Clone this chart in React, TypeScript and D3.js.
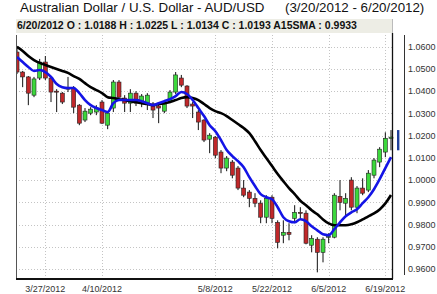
import React from "react";
import * as d3 from "d3";

// ---- data ----
const dates: Date[] = d3.timeDay
  .range(new Date(2012, 2, 20), new Date(2012, 5, 21))
  .filter((d) => d.getDay() % 6 !== 0);

const opens = [1.0576,1.0486,1.0464,1.0382,1.0459,1.0531,1.0459,1.0400,1.0391,1.0414,1.0414,1.0337,1.0270,1.0301,1.0306,1.0351,1.0247,1.0324,1.0441,1.0369,1.0346,1.0391,1.0351,1.0346,1.0342,1.0333,1.0310,1.0355,1.0396,1.0459,1.0423,1.0342,1.0306,1.0270,1.0184,1.0193,1.0126,1.0054,1.0081,1.0054,0.9964,0.9946,0.9918,0.9896,0.9833,0.9923,0.9810,0.9752,0.9765,0.9828,0.9855,0.9851,0.9707,0.9734,0.9675,0.9743,0.9743,0.9927,0.9896,1.0000,0.9878,0.9964,0.9955,1.0022,1.0081,1.0126,1.0188];
const highs = [1.0603,1.0491,1.0468,1.0464,1.0545,1.0558,1.0464,1.0409,1.0396,1.0464,1.0423,1.0342,1.0324,1.0328,1.0337,1.0360,1.0306,1.0450,1.0450,1.0382,1.0409,1.0400,1.0387,1.0391,1.0351,1.0342,1.0351,1.0405,1.0486,1.0473,1.0427,1.0351,1.0315,1.0274,1.0211,1.0198,1.0135,1.0108,1.0090,1.0063,1.0000,0.9955,0.9941,0.9909,0.9932,0.9932,0.9819,0.9819,0.9806,0.9887,0.9878,0.9864,0.9752,0.9743,0.9743,0.9761,0.9941,1.0000,0.9941,1.0013,0.9973,1.0008,1.0045,1.0099,1.0148,1.0215,1.0225];
const lows = [1.0477,1.0418,1.0337,1.0373,1.0450,1.0450,1.0351,1.0306,1.0342,1.0396,1.0301,1.0247,1.0261,1.0292,1.0292,1.0252,1.0229,1.0306,1.0369,1.0306,1.0306,1.0333,1.0328,1.0315,1.0279,1.0256,1.0301,1.0346,1.0387,1.0418,1.0324,1.0279,1.0225,1.0171,1.0121,1.0099,1.0031,1.0040,1.0008,0.9955,0.9923,0.9878,0.9878,0.9806,0.9806,0.9806,0.9693,0.9716,0.9729,0.9806,0.9828,0.9711,0.9675,0.9585,0.9630,0.9716,0.9738,0.9864,0.9842,0.9864,0.9851,0.9932,0.9946,1.0008,1.0058,1.0103,1.0134];
const closes = [1.0486,1.0464,1.0391,1.0455,1.0531,1.0459,1.0396,1.0396,1.0351,1.0409,1.0328,1.0256,1.0310,1.0319,1.0324,1.0256,1.0301,1.0441,1.0373,1.0346,1.0391,1.0346,1.0378,1.0382,1.0315,1.0324,1.0342,1.0396,1.0473,1.0427,1.0333,1.0333,1.0261,1.0180,1.0202,1.0112,1.0054,1.0099,1.0022,0.9964,0.9932,0.9918,0.9896,0.9833,0.9918,0.9828,0.9720,0.9765,0.9756,0.9855,0.9851,0.9716,0.9738,0.9675,0.9734,0.9747,0.9932,0.9900,0.9918,0.9878,0.9964,0.9941,1.0031,1.0090,1.0139,1.0188,1.0193];

const sma15 = [1.0599,1.0581,1.0558,1.0540,1.0527,1.0518,1.0509,1.0500,1.0491,1.0482,1.0468,1.0455,1.0436,1.0418,1.0405,1.0391,1.0373,1.0369,1.0364,1.0360,1.0355,1.0351,1.0346,1.0342,1.0337,1.0342,1.0346,1.0351,1.0360,1.0369,1.0373,1.0369,1.0360,1.0342,1.0324,1.0310,1.0301,1.0288,1.0270,1.0252,1.0234,1.0211,1.0175,1.0135,1.0099,1.0063,1.0027,0.9995,0.9964,0.9937,0.9907,0.9887,0.9864,0.9846,0.9823,0.9805,0.9797,0.9797,0.9797,0.9801,0.9810,0.9823,0.9837,0.9850,0.9868,0.9895,0.9933];
const smaFast = [1.0554,1.0531,1.0509,1.0491,1.0495,1.0486,1.0464,1.0432,1.0418,1.0414,1.0414,1.0391,1.0360,1.0337,1.0324,1.0315,1.0306,1.0346,1.0360,1.0360,1.0360,1.0360,1.0355,1.0346,1.0337,1.0346,1.0355,1.0364,1.0378,1.0396,1.0387,1.0360,1.0324,1.0288,1.0247,1.0220,1.0180,1.0135,1.0108,1.0085,1.0058,1.0013,0.9973,0.9937,0.9923,0.9914,0.9878,0.9833,0.9815,0.9810,0.9824,0.9815,0.9792,0.9774,0.9756,0.9752,0.9779,0.9810,0.9837,0.9855,0.9869,0.9896,0.9923,0.9959,1.0004,1.0054,1.0103];

const yTicks = [0.96,0.97,0.98,0.99,1.0,1.01,1.02,1.03,1.04,1.05,1.06];
const xTickLabels = ["3/27/2012","4/10/2012","5/8/2012","5/22/2012","6/5/2012","6/19/2012"];

const titleMain = "Australian Dollar / U.S. Dollar -  AUD/USD";
const titleRange = "(3/20/2012 - 6/20/2012)";
const headerText = "6/20/2012 O : 1.0188 H : 1.0225 L : 1.0134 C : 1.0193 A15SMA : 0.9933";

// ---- layout ----
const W = 437, H = 294;
const plotL = 16, plotR = 392, plotT = 35, plotB = 279;
const FONT = "'Liberation Sans', Arial, sans-serif";

const fmtLabel = d3.timeFormat("%-m/%-d/%Y");

export default function App() {
  const x = d3.scaleLinear().domain([0, dates.length - 1]).range([17, 391]);
  const y = d3.scaleLinear().domain([0.96, 1.06]).range([269, 46.7]);
  const lineGen = d3
    .line<number>()
    .x((_, i) => x(i))
    .y((v) => y(v))
    .curve(d3.curveMonotoneX);

  const tickIdx = xTickLabels.map((lab) => dates.findIndex((d) => fmtLabel(d) === lab));
  const bodyW = 4;
  const last = dates.length - 1;

  return (
    <svg width={W} height={H} style={{ position: "absolute", left: 0, top: 0, background: "#fff" }}
      fontFamily={FONT}>
      <defs>
        <clipPath id="plotclip">
          <rect x={plotL + 0.5} y={plotT - 10} width={plotR - plotL + 4} height={plotB - plotT + 10} />
        </clipPath>
      </defs>
      <rect x={0} y={0} width={W} height={H} fill="#fff" />
      {/* title */}
      <text x={20} y={12} fontSize={13.33} fill="#111">{titleMain}</text>
      <text x={285} y={12} fontSize={13.33} fill="#111">{titleRange}</text>
      {/* header band */}
      <rect x={plotL} y={19} width={plotR - plotL + 1} height={14} fill="#ededE5" />
      <text x={17} y={29.3} fontSize={10.5} fontWeight="bold" fill="#111">{headerText}</text>

      {/* gridlines */}
      {yTicks.map((t) => (
        <line key={"gy" + t} x1={plotL} x2={plotR} y1={Math.round(y(t)) + 0.5} y2={Math.round(y(t)) + 0.5}
          stroke="#c4c4c4" strokeWidth={1} strokeDasharray="1,2" />
      ))}
      {tickIdx.map((i, k) => (
        <line key={"gx" + k} x1={Math.round(x(i)) + 0.5} x2={Math.round(x(i)) + 0.5} y1={plotT} y2={plotB}
          stroke="#c4c4c4" strokeWidth={1} strokeDasharray="1,2" />
      ))}

      {/* candles */}
      <g clipPath="url(#plotclip)">
        {dates.map((d, i) => {
          const o = opens[i], c = closes[i], h = highs[i], l = lows[i];
          const up = c >= o;
          const cx = x(i);
          const top = y(Math.max(o, c));
          const bh = Math.max(1, Math.abs(y(o) - y(c)));
          return (
            <g key={i}>
              <line x1={cx} x2={cx} y1={y(h)} y2={y(l)} stroke="#111" strokeWidth={1} />
              <rect x={cx - bodyW / 2} y={top} width={bodyW} height={bh}
                fill={up ? "#3cd83c" : "#c0282a"} stroke="#222" strokeWidth={0.6} />
            </g>
          );
        })}
        <path d={lineGen(sma15) || ""} fill="none" stroke="#000" strokeWidth={2.6} />
        <path d={lineGen(smaFast) || ""} fill="none" stroke="#1414e6" strokeWidth={2.6} />
      </g>

      {/* current bar marker right of the separator */}
      <rect x={397} y={y(highs[last])} width={2.4} height={y(lows[last]) - y(highs[last])}
        fill="#1f3f9a" />

      {/* frame */}
      <line x1={plotL + 0.5} x2={plotL + 0.5} y1={plotT} y2={plotB} stroke="#555" strokeWidth={1} />
      <line x1={plotL} x2={plotR + 1} y1={plotB} y2={plotB} stroke="#111" strokeWidth={2} />
      <line x1={plotR + 0.5} x2={plotR + 0.5} y1={19} y2={33} stroke="#bbb" strokeWidth={1} />
      <line x1={plotR + 0.5} x2={plotR + 0.5} y1={33} y2={plotB} stroke="#111" strokeWidth={1.3} />
      <line x1={404.5} x2={404.5} y1={35} y2={275} stroke="#333" strokeWidth={1} />

      {/* y labels */}
      {yTicks.map((t) => (
        <text key={"yl" + t} x={408} y={y(t) + 3.3} fontSize={9} fill="#333">{t.toFixed(4)}</text>
      ))}
      {/* x labels */}
      {tickIdx.map((i, k) => (
        <text key={"xl" + k} x={x(i)} y={292} fontSize={9} fill="#333" textAnchor="middle">{xTickLabels[k]}</text>
      ))}
    </svg>
  );
}
